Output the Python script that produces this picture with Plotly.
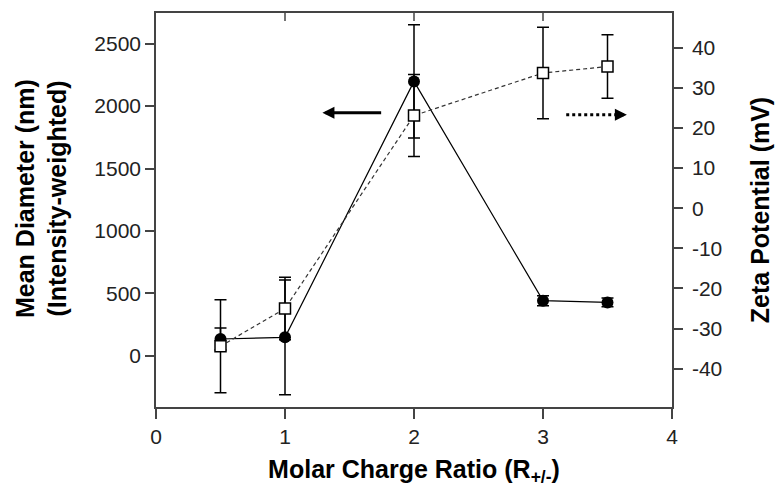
import plotly.graph_objects as go

# ---- data ----
ratio = [0.5, 1, 2, 3, 3.5]
diameter_nm = [134, 147, 2198, 441, 427]
diameter_err = [88, 460, 454, 40, 35]
zeta_mv = [-34.4, -25.0, 23.1, 33.7, 35.3]
zeta_err = [11.6, 7.8, 10.2, 11.4, 7.9]

x_ticks = [0, 1, 2, 3, 4]
y_ticks = [0, 500, 1000, 1500, 2000, 2500]
y2_ticks = [-40, -30, -20, -10, 0, 10, 20, 30, 40]
y2_labels = ["-40", "-30", "-20", "-10", "0", "10", "20", "30", "40"]

FONT = "Liberation Sans, Arial, sans-serif"
AX = "#444444"

fig = go.Figure()

fig.add_trace(go.Scatter(
    x=ratio, y=diameter_nm, mode="lines+markers",
    line=dict(color="black", width=1.2),
    marker=dict(symbol="circle", size=12, color="black"),
    error_y=dict(type="data", array=diameter_err, color="black", thickness=1.5, width=6),
    yaxis="y", showlegend=False))

fig.add_trace(go.Scatter(
    x=ratio, y=zeta_mv, mode="lines+markers",
    line=dict(color="#333333", width=1.2, dash="4px,3px"),
    marker=dict(symbol="square", size=11, color="white", line=dict(color="black", width=1.5)),
    error_y=dict(type="data", array=zeta_err, color="black", thickness=1.5, width=6),
    yaxis="y2", showlegend=False))

# inner tick marks on the top frame (mirror of the x ticks)
for xv in x_ticks[1:-1]:
    fig.add_shape(type="line", xref="x", yref="paper", x0=xv, x1=xv,
                  ysizemode="pixel", yanchor=1, y0=0, y1=-8,
                  line=dict(color=AX, width=1.5))

# arrows
fig.add_annotation(x=1.29, y=1947, ax=1.757, ay=1947, xref="x", yref="y", axref="x", ayref="y",
                   text="", showarrow=True, arrowhead=2, arrowsize=0.8, arrowwidth=3, arrowcolor="black")
fig.add_shape(type="line", x0=3.18, x1=3.57, y0=23.3, y1=23.3, xref="x", yref="y2",
              line=dict(color="black", width=3, dash="dot"))
fig.add_annotation(x=3.65, y=23.3, ax=3.55, ay=23.3, xref="x", yref="y2", axref="x", ayref="y2",
                   text="", showarrow=True, arrowhead=2, arrowsize=0.8, arrowwidth=3, arrowcolor="black")

# left axis title as annotation (two lines)
fig.add_annotation(text="<b>Mean Diameter (nm)<br>(Intensity-weighted)</b>", textangle=-90,
                   xref="paper", yref="paper", x=-0.222, y=0.529, xanchor="center", yanchor="middle",
                   showarrow=False, font=dict(size=25, color="black"))

fig.update_layout(
    width=775, height=487,
    margin=dict(l=156, r=103, t=13, b=80, autoexpand=False),
    plot_bgcolor="white", paper_bgcolor="white",
    font=dict(family=FONT, color="#222222", size=21),
    xaxis=dict(range=[0, 4], tickvals=x_ticks, ticks="outside", ticklen=10, tickwidth=1.5, tickcolor=AX,
               showline=True, linecolor=AX, linewidth=1.5, mirror=True, showgrid=False, zeroline=False,
               tickfont=dict(size=21), automargin=False,
               title=dict(text="<b>Molar Charge Ratio (R<sub>+/-</sub>)</b>", font=dict(size=25, color="black"),
                          standoff=24)),
    yaxis=dict(range=[-411, 2746], tickvals=y_ticks, ticks="outside", ticklen=9, tickwidth=1.5, tickcolor=AX,
               showline=True, linecolor=AX, linewidth=1.5, showgrid=False, zeroline=False,
               tickfont=dict(size=21), automargin=False),
    yaxis2=dict(range=[-49.55, 48.65], tickvals=y2_ticks, ticktext=y2_labels, ticks="outside", ticklen=9,
                tickwidth=1.5, tickcolor=AX, overlaying="y", side="right", anchor="x",
                showline=True, linecolor=AX, linewidth=1.5, showgrid=False, zeroline=False,
                tickfont=dict(size=21), automargin=False, ticklabelstandoff=5,
                title=dict(text="<b>Zeta Potential (mV)</b>", font=dict(size=25, color="black"), standoff=30)),
)

fig.write_html("out.html")
